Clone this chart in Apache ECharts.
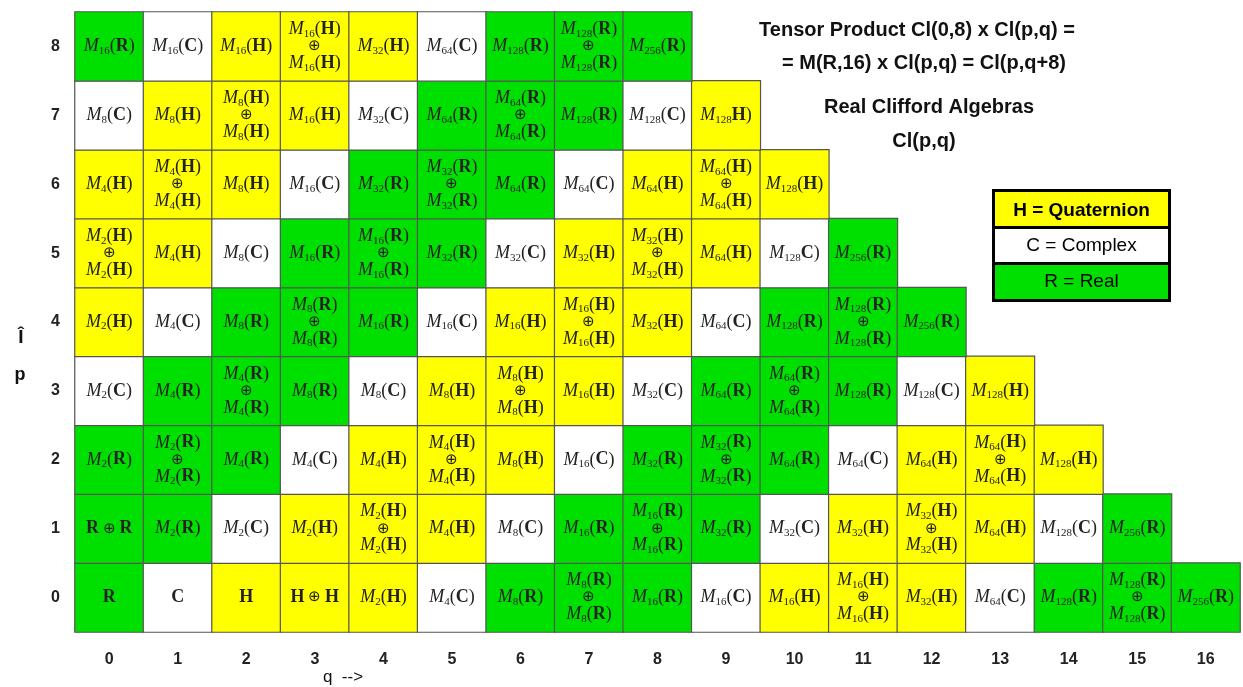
<!DOCTYPE html>
<html>
<head>
<meta charset="utf-8">
<script src="https://cdn.jsdelivr.net/npm/echarts@6/dist/echarts.min.js"></script>
<style>
  html, body { margin: 0; padding: 0; background: #fff; }
  #chart { width: 1243px; height: 687px; }
</style>
</head>
<body>
<div id="chart"></div>
<script>
// q along the bottom, p up the side
var qLabels = ['0', '1', '2', '3', '4', '5', '6', '7', '8', '9', '10', '11', '12', '13', '14', '15', '16'];
var pLabels = ['0', '1', '2', '3', '4', '5', '6', '7', '8'];

// algebra in each cell, row by row (index = q), '+' means direct sum
var rowP0 = ['R', 'C', 'H', 'H+H', 'M2(H)', 'M4(C)', 'M8(R)', 'M8(R)+M8(R)', 'M16(R)',
  'M16(C)', 'M16(H)', 'M16(H)+M16(H)', 'M32(H)', 'M64(C)', 'M128(R)', 'M128(R)+M128(R)', 'M256(R)'];
var rowP1 = ['R+R', 'M2(R)', 'M2(C)', 'M2(H)', 'M2(H)+M2(H)', 'M4(H)', 'M8(C)', 'M16(R)', 'M16(R)+M16(R)',
  'M32(R)', 'M32(C)', 'M32(H)', 'M32(H)+M32(H)', 'M64(H)', 'M128(C)', 'M256(R)'];
var rowP2 = ['M2(R)', 'M2(R)+M2(R)', 'M4(R)', 'M4(C)', 'M4(H)', 'M4(H)+M4(H)', 'M8(H)', 'M16(C)', 'M32(R)',
  'M32(R)+M32(R)', 'M64(R)', 'M64(C)', 'M64(H)', 'M64(H)+M64(H)', 'M128(H)'];
var rowP3 = ['M2(C)', 'M4(R)', 'M4(R)+M4(R)', 'M8(R)', 'M8(C)', 'M8(H)', 'M8(H)+M8(H)', 'M16(H)', 'M32(C)',
  'M64(R)', 'M64(R)+M64(R)', 'M128(R)', 'M128(C)', 'M128(H)'];
var rowP4 = ['M2(H)', 'M4(C)', 'M8(R)', 'M8(R)+M8(R)', 'M16(R)', 'M16(C)', 'M16(H)', 'M16(H)+M16(H)', 'M32(H)',
  'M64(C)', 'M128(R)', 'M128(R)+M128(R)', 'M256(R)'];
var rowP5 = ['M2(H)+M2(H)', 'M4(H)', 'M8(C)', 'M16(R)', 'M16(R)+M16(R)', 'M32(R)', 'M32(C)', 'M32(H)', 'M32(H)+M32(H)',
  'M64(H)', 'M128C)', 'M256(R)'];
var rowP6 = ['M4(H)', 'M4(H)+M4(H)', 'M8(H)', 'M16(C)', 'M32(R)', 'M32(R)+M32(R)', 'M64(R)', 'M64(C)', 'M64(H)',
  'M64(H)+M64(H)', 'M128(H)'];
var rowP7 = ['M8(C)', 'M8(H)', 'M8(H)+M8(H)', 'M16(H)', 'M32(C)', 'M64(R)', 'M64(R)+M64(R)', 'M128(R)', 'M128(C)',
  'M128 H)'];
var rowP8 = ['M16(R)', 'M16(C)', 'M16(H)', 'M16(H)+M16(H)', 'M32(H)', 'M64(C)', 'M128(R)', 'M128(R)+M128(R)', 'M256(R)'];

var rows = [rowP0, rowP1, rowP2, rowP3, rowP4, rowP5, rowP6, rowP7, rowP8];
var kinds = ['R', 'C', 'H'];

var cells = [];
rows.forEach(function (row, p) {
  row.forEach(function (name, q) {
    var k = name.match(/([RCH])\)?$/)[1];
    cells.push({ name: name, value: [q, p, kinds.indexOf(k)] });
  });
});

// one algebra term -> rich text
function term (t) {
  var m = t.match(/^M(\d+)\s?(\(?)([RCH])\)$/);
  if (!m) return '{b|' + t + '}';
  return '{m|M}{s|' + m[1] + '}{p|' + m[2] + '}{b|' + m[3] + '}{p|)}';
}
function cellText (name) {
  var parts = name.split('+');
  if (parts.length === 1) return term(parts[0]);
  if (parts[0].length === 1) return '{b|' + parts[0] + '}{o| \u2295 }{b|' + parts[1] + '}';
  return term(parts[0]) + '\n{o|\u2295}\n' + term(parts[1]);
}

var chart = echarts.init(document.getElementById('chart'));
var txt = '#222';
var sans = 'Liberation Sans, Arial, sans-serif';
var serif = 'Liberation Serif, Times New Roman, serif';

chart.setOption({
  animation: false,
  grid: { left: 75, top: 12, width: 1165, height: 620 },
  xAxis: {
    type: 'category',
    data: qLabels,
    axisLine: { show: false },
    axisTick: { show: false },
    splitLine: { show: false },
    axisLabel: { margin: 20, color: txt, fontFamily: sans, fontWeight: 'bold', fontSize: 16 }
  },
  yAxis: {
    type: 'category',
    data: pLabels,
    axisLine: { show: false },
    axisTick: { show: false },
    splitLine: { show: false },
    axisLabel: { margin: 15, color: txt, fontFamily: sans, fontWeight: 'bold', fontSize: 16 }
  },
  visualMap: {
    show: false,
    type: 'piecewise',
    dimension: 2,
    pieces: [
      { value: 0, color: '#00e000' },
      { value: 1, color: '#ffffff' },
      { value: 2, color: '#ffff00' }
    ]
  },
  series: [{
    type: 'heatmap',
    data: cells,
    itemStyle: { borderColor: '#555', borderWidth: 1.2 },
    label: {
      show: true,
      color: txt,
      formatter: function (params) { return cellText(params.name) },
      rich: {
        m: { fontFamily: serif, fontStyle: 'italic', fontSize: 18, lineHeight: 20, color: txt },
        s: { fontFamily: serif, fontSize: 11, lineHeight: 9, verticalAlign: 'bottom', color: txt },
        p: { fontFamily: serif, fontSize: 18, lineHeight: 20, color: txt },
        b: { fontFamily: serif, fontWeight: 'bold', fontSize: 18, lineHeight: 20, color: txt },
        o: { fontFamily: serif, fontSize: 15, lineHeight: 14, color: txt }
      }
    }
  }],
  graphic: [
    { type: 'text', x: 917, y: 30, style: { text: 'Tensor Product Cl(0,8) x Cl(p,q) =', font: 'bold 20px ' + sans, fill: '#111', align: 'center', verticalAlign: 'middle' } },
    { type: 'text', x: 924, y: 63, style: { text: '= M(R,16) x Cl(p,q) = Cl(p,q+8)', font: 'bold 20px ' + sans, fill: '#111', align: 'center', verticalAlign: 'middle' } },
    { type: 'text', x: 929, y: 107, style: { text: 'Real Clifford Algebras', font: 'bold 20px ' + sans, fill: '#111', align: 'center', verticalAlign: 'middle' } },
    { type: 'text', x: 924, y: 141, style: { text: 'Cl(p,q)', font: 'bold 20px ' + sans, fill: '#111', align: 'center', verticalAlign: 'middle' } },
    // legend box
    {
      type: 'group',
      left: 991,
      top: 188,
      children: [
        { type: 'rect', shape: { x: 0, y: 0, width: 176, height: 37 }, style: { fill: '#ffff00' } },
        { type: 'rect', shape: { x: 0, y: 37, width: 176, height: 36 }, style: { fill: '#ffffff' } },
        { type: 'rect', shape: { x: 0, y: 73, width: 176, height: 37 }, style: { fill: '#00e000' } },
        { type: 'line', shape: { x1: 0, y1: 37, x2: 176, y2: 37 }, style: { stroke: '#000', lineWidth: 3 } },
        { type: 'line', shape: { x1: 0, y1: 73, x2: 176, y2: 73 }, style: { stroke: '#000', lineWidth: 3 } },
        { type: 'rect', shape: { x: 0, y: 0, width: 176, height: 110 }, style: { fill: 'none', stroke: '#000', lineWidth: 3 } },
        { type: 'text', x: 88, y: 20, style: { text: 'H = Quaternion', font: 'bold 19px ' + sans, fill: '#000', align: 'center', verticalAlign: 'middle' } },
        { type: 'text', x: 88, y: 55, style: { text: 'C = Complex', font: '19px ' + sans, fill: '#000', align: 'center', verticalAlign: 'middle' } },
        { type: 'text', x: 88, y: 91, style: { text: 'R = Real', font: '19px ' + sans, fill: '#000', align: 'center', verticalAlign: 'middle' } }
      ]
    },
    // axis names
    { type: 'text', x: 21, y: 338, style: { text: '\u00ce', font: 'bold 19px ' + sans, fill: '#111', align: 'center', verticalAlign: 'middle' } },
    { type: 'text', x: 20, y: 375, style: { text: 'p', font: 'bold 18px ' + sans, fill: '#111', align: 'center', verticalAlign: 'middle' } },
    { type: 'text', x: 343, y: 677, style: { text: 'q  -->', font: '17px ' + sans, fill: '#111', align: 'center', verticalAlign: 'middle' } }
  ]
})
</script>
</body>
</html>
